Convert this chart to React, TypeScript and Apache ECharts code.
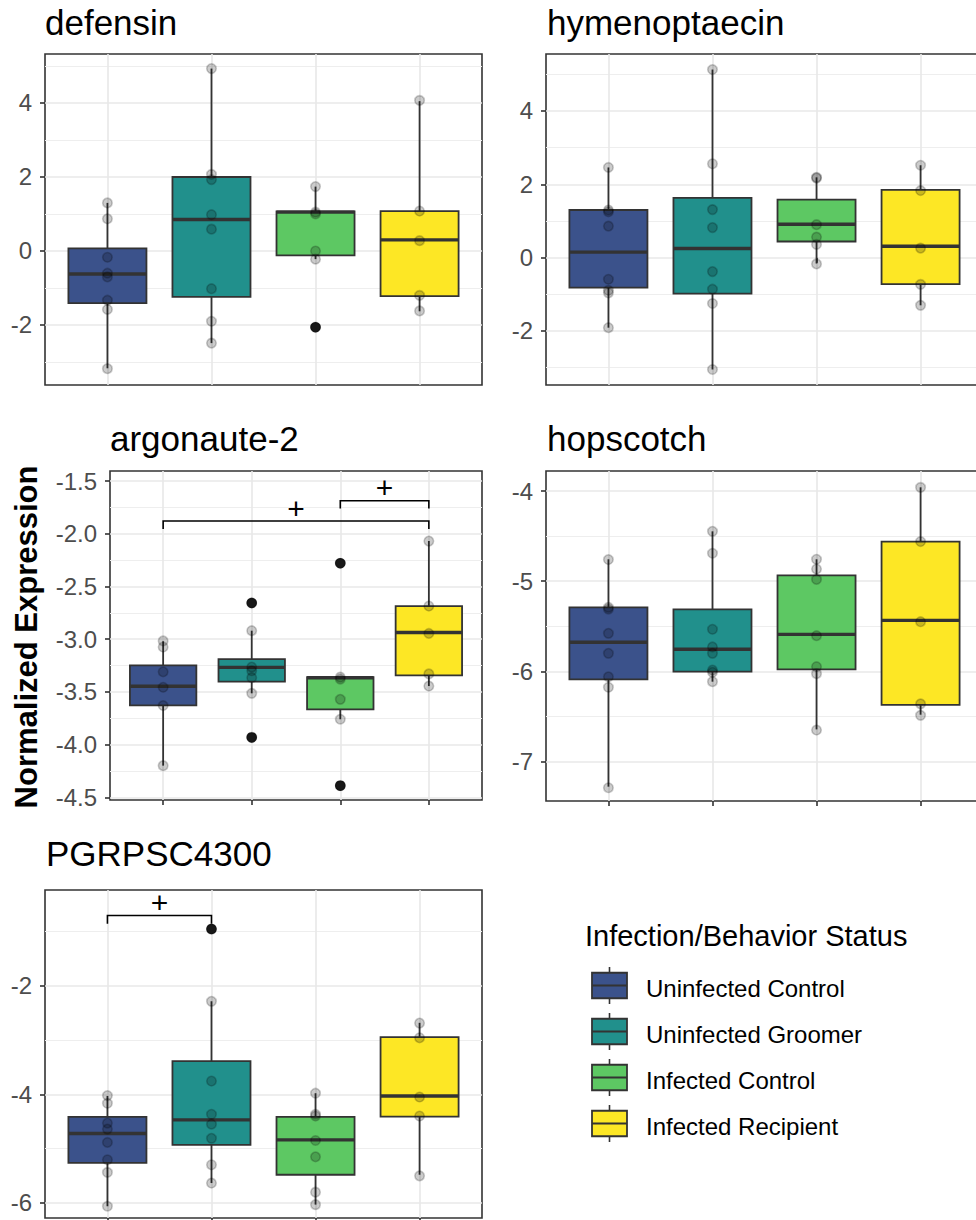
import React, { useEffect, useRef } from "react";
import * as echarts from "echarts";

const FONT = "'Liberation Sans', Arial, Helvetica, sans-serif";

// ---------- data ----------
const GROUPS = ["Uninfected Control", "Uninfected Groomer", "Infected Control", "Infected Recipient"];
const COLORS = ["#3B528B", "#21908C", "#5DC863", "#FDE725"];
const GENES = ["defensin", "hymenoptaecin", "argonaute-2", "hopscotch", "PGRPSC4300"];
const LEGEND_TITLE = "Infection/Behavior Status";
const Y_AXIS_TITLE = "Normalized Expression";
const SIGNIF_LABEL = "+";
const X_POSITIONS = [1, 2, 3, 4];

// boxes: [lower whisker, Q1, median, Q3, upper whisker] per group
const DEFENSIN_BOXES = [
  [-3.17, -1.41, -0.62, 0.07, 1.3],
  [-2.49, -1.24, 0.85, 2.0, 4.93],
  [-0.22, -0.12, 1.05, 1.07, 1.74],
  [-1.63, -1.22, 0.3, 1.08, 4.05],
];
const DEFENSIN_POINTS = [
  [1.3, 0.87, -0.17, -0.6, -0.7, -1.33, -1.58, -3.18],
  [4.93, 2.07, 1.93, 0.98, 0.59, -1.02, -1.9, -2.49],
  [1.74, 1.05, 1.0, 0.0, -0.22, -2.06],
  [4.07, 1.08, 0.28, -1.2, -1.62],
];
const DEFENSIN_OUTLIERS = [[], [], [-2.06], []];
const DEFENSIN_TICKS = [-2, 0, 2, 4];
const DEFENSIN_RANGE = [-3.622, 5.324];

const HYMENOPTAECIN_BOXES = [
  [-1.91, -0.82, 0.15, 1.3, 2.46],
  [-3.05, -0.98, 0.25, 1.63, 5.13],
  [-0.16, 0.44, 0.91, 1.58, 2.19],
  [-1.3, -0.72, 0.31, 1.85, 2.52],
];
const HYMENOPTAECIN_POINTS = [
  [2.46, 1.3, 1.25, 0.86, -0.59, -0.89, -0.96, -1.91],
  [5.13, 2.56, 1.31, 0.82, -0.38, -0.86, -1.25, -3.05],
  [2.19, 2.17, 0.9, 0.56, 0.36, -0.17],
  [2.52, 1.83, 0.26, -0.73, -1.3],
];
const HYMENOPTAECIN_OUTLIERS = [[], [], [], []];
const HYMENOPTAECIN_TICKS = [-2, 0, 2, 4];
const HYMENOPTAECIN_RANGE = [-3.473, 5.554];

const ARGONAUTE_BOXES = [
  [-4.2, -3.628, -3.447, -3.248, -3.02],
  [-3.514, -3.404, -3.268, -3.189, -2.92],
  [-3.76, -3.666, -3.366, -3.36, -3.36],
  [-3.445, -3.344, -2.937, -2.686, -2.069],
];
const ARGONAUTE_POINTS = [
  [-3.017, -3.075, -3.31, -3.457, -3.63, -4.2],
  [-2.657, -2.92, -3.265, -3.3, -3.366, -3.514, -3.932],
  [-2.28, -3.36, -3.38, -3.571, -3.76, -4.39],
  [-2.07, -2.686, -2.946, -3.33, -3.445],
];
const ARGONAUTE_OUTLIERS = [[], [-2.657, -3.932], [-2.28, -4.39], []];
const ARGONAUTE_TICKS = [-4.5, -4.0, -3.5, -3.0, -2.5, -2.0, -1.5];
const ARGONAUTE_RANGE = [-4.526, -1.405];
// brackets: [from group, to group, bar level, tip level]
const ARGONAUTE_BRACKETS = [
  [1, 4, -1.88, -1.955],
  [3, 4, -1.687, -1.76],
];

const HOPSCOTCH_BOXES = [
  [-7.278, -6.088, -5.677, -5.29, -4.757],
  [-6.114, -6.003, -5.755, -5.312, -4.447],
  [-6.643, -5.977, -5.59, -4.935, -4.757],
  [-6.48, -6.372, -5.434, -4.562, -3.959],
];
const HOPSCOTCH_POINTS = [
  [-4.76, -5.29, -5.31, -5.578, -5.8, -6.06, -6.176, -7.29],
  [-4.447, -4.69, -5.533, -5.729, -5.8, -5.985, -6.01, -6.114],
  [-4.757, -4.865, -4.98, -5.604, -5.948, -6.025, -6.65],
  [-3.96, -4.56, -5.449, -6.36, -6.487],
];
const HOPSCOTCH_OUTLIERS = [[], [], [], []];
const HOPSCOTCH_TICKS = [-7, -6, -5, -4];
const HOPSCOTCH_RANGE = [-7.437, -3.778];

const PGRP_BOXES = [
  [-6.06, -5.26, -4.72, -4.417, -4.03],
  [-5.633, -4.93, -4.47, -3.389, -2.288],
  [-6.03, -5.48, -4.838, -4.417, -3.98],
  [-5.48, -4.41, -4.03, -2.948, -2.685],
];
const PGRP_POINTS = [
  [-4.024, -4.165, -4.53, -4.64, -4.886, -5.205, -5.437, -6.06],
  [-0.96, -2.29, -3.756, -4.367, -4.55, -4.81, -5.297, -5.633],
  [-3.98, -4.367, -4.4, -4.85, -5.15, -5.8, -6.03],
  [-2.69, -2.96, -4.05, -4.4, -5.5],
];
const PGRP_OUTLIERS = [[], [-0.96], [], []];
const PGRP_TICKS = [-6, -4, -2];
const PGRP_RANGE = [-6.276, -0.241];
const PGRP_BRACKETS = [[1, 2, -0.71, -0.862]];

// ---------- layout ----------
const PANEL_LAYOUT = [
  { left: 45, top: 54, width: 437, height: 331, titleX: 45, titleY: 22.5, splitNumber: 5, decimals: 0 },
  { left: 546, top: 54, width: 437, height: 331, titleX: 547, titleY: 22.5, splitNumber: 5, decimals: 0 },
  { left: 110, top: 471, width: 372, height: 329, titleX: 110, titleY: 438.5, splitNumber: 5, decimals: 1 },
  { left: 546, top: 471, width: 437, height: 330, titleX: 547, titleY: 438, splitNumber: 5, decimals: 0 },
  { left: 45, top: 890, width: 437, height: 328, titleX: 46, titleY: 853, splitNumber: 3, decimals: 0 },
];

const PANELS = [
  { boxes: DEFENSIN_BOXES, points: DEFENSIN_POINTS, outliers: DEFENSIN_OUTLIERS, ticks: DEFENSIN_TICKS, range: DEFENSIN_RANGE, brackets: [] as number[][] },
  { boxes: HYMENOPTAECIN_BOXES, points: HYMENOPTAECIN_POINTS, outliers: HYMENOPTAECIN_OUTLIERS, ticks: HYMENOPTAECIN_TICKS, range: HYMENOPTAECIN_RANGE, brackets: [] as number[][] },
  { boxes: ARGONAUTE_BOXES, points: ARGONAUTE_POINTS, outliers: ARGONAUTE_OUTLIERS, ticks: ARGONAUTE_TICKS, range: ARGONAUTE_RANGE, brackets: ARGONAUTE_BRACKETS },
  { boxes: HOPSCOTCH_BOXES, points: HOPSCOTCH_POINTS, outliers: HOPSCOTCH_OUTLIERS, ticks: HOPSCOTCH_TICKS, range: HOPSCOTCH_RANGE, brackets: [] as number[][] },
  { boxes: PGRP_BOXES, points: PGRP_POINTS, outliers: PGRP_OUTLIERS, ticks: PGRP_TICKS, range: PGRP_RANGE, brackets: PGRP_BRACKETS },
];

const LEGEND_LAYOUT = {
  titleX: 585, titleY: 936, keyX: 592, keyW: 35, boxH: 25.5, whiskerH: 37,
  rowY0: 985.5, rowStep: 46, labelX: 646, labelDy: 2.5,
};

const BOX_WIDTH = 0.75;
const EDGE = "#333333";

function buildOption() {
  const grid: any[] = [];
  const xAxis: any[] = [];
  const yAxis: any[] = [];
  const series: any[] = [];
  const graphic: any[] = [];

  PANELS.forEach((p, i) => {
    const L = PANEL_LAYOUT[i];
    grid.push({
      left: L.left, top: L.top, width: L.width, height: L.height,
      show: true, borderColor: EDGE, borderWidth: 1.6, containLabel: false,
    });
    xAxis.push({
      type: "value", gridIndex: i, min: 0.4, max: 4.6,
      axisLine: { show: false },
      axisLabel: { show: false },
      axisTick: { show: true, length: 5, customValues: X_POSITIONS, lineStyle: { color: EDGE, width: 1.6 } },
      splitLine: { show: true, lineStyle: { color: "#E8E8E8", width: 1.6 } },
    });
    yAxis.push({
      type: "value", gridIndex: i, min: p.range[0], max: p.range[1], splitNumber: L.splitNumber,
      axisLine: { show: false },
      axisTick: { show: true, length: 5, customValues: p.ticks, lineStyle: { color: EDGE, width: 1.6 } },
      axisLabel: {
        customValues: p.ticks, color: "#4D4D4D", fontSize: 24, fontFamily: FONT, margin: 13,
        formatter: (v: number) => v.toFixed(L.decimals),
      },
      splitLine: { show: true, lineStyle: { color: "#E8E8E8", width: 1.6 } },
      minorTick: { show: false, splitNumber: 2 },
      minorSplitLine: { show: true, lineStyle: { color: "#EEEEEE", width: 1 } },
    });

    series.push({
      type: "custom", name: GENES[i] + " boxes", xAxisIndex: i, yAxisIndex: i, z: 2,
      encode: { x: 0, y: [1, 2, 3, 4, 5] },
      data: p.boxes.map((b, g) => [X_POSITIONS[g], ...b]),
      renderItem: (_params: any, api: any) => {
        const x = api.value(0);
        const lo = api.coord([x, api.value(1)]);
        const q1 = api.coord([x, api.value(2)]);
        const md = api.coord([x, api.value(3)]);
        const q3 = api.coord([x, api.value(4)]);
        const hi = api.coord([x, api.value(5)]);
        const w = api.size([BOX_WIDTH, 0])[0];
        const color = COLORS[Math.round(x) - 1];
        return {
          type: "group",
          children: [
            { type: "line", shape: { x1: lo[0], y1: lo[1], x2: q1[0], y2: q1[1] }, style: { stroke: EDGE, lineWidth: 1.8 } },
            { type: "line", shape: { x1: q3[0], y1: q3[1], x2: hi[0], y2: hi[1] }, style: { stroke: EDGE, lineWidth: 1.8 } },
            { type: "rect", shape: { x: q1[0] - w / 2, y: q3[1], width: w, height: q1[1] - q3[1] }, style: { fill: color, stroke: EDGE, lineWidth: 1.8 } },
            { type: "line", shape: { x1: md[0] - w / 2, y1: md[1], x2: md[0] + w / 2, y2: md[1] }, style: { stroke: EDGE, lineWidth: 3.4 } },
          ],
        };
      },
    });

    const outlierData: number[][] = [];
    p.outliers.forEach((arr, g) => arr.forEach((v) => outlierData.push([X_POSITIONS[g], v])));
    series.push({
      type: "scatter", name: GENES[i] + " outliers", xAxisIndex: i, yAxisIndex: i, z: 3,
      symbol: "circle", symbolSize: 10.5, data: outlierData,
      itemStyle: { color: "#1E1E1E", opacity: 1 },
    });

    const pointData: number[][] = [];
    p.points.forEach((arr, g) => arr.forEach((v) => pointData.push([X_POSITIONS[g], v])));
    series.push({
      type: "scatter", name: GENES[i] + " points", xAxisIndex: i, yAxisIndex: i, z: 4,
      symbol: "circle", symbolSize: 9.5, data: pointData,
      itemStyle: { color: "rgba(0,0,0,0.2)", borderColor: "rgba(0,0,0,0.2)", borderWidth: 1.6, opacity: 1 },
    });

    if (p.brackets.length) {
      series.push({
        type: "custom", name: GENES[i] + " significance", xAxisIndex: i, yAxisIndex: i, z: 5, clip: false,
        encode: { x: [0, 1], y: [2, 3] },
        data: p.brackets,
        renderItem: (_params: any, api: any) => {
          const x1 = api.value(0), x2 = api.value(1), yb = api.value(2), yt = api.value(3);
          const a = api.coord([x1, yt]);
          const b = api.coord([x1, yb]);
          const c = api.coord([x2, yb]);
          const d = api.coord([x2, yt]);
          return {
            type: "group",
            children: [
              { type: "polyline", shape: { points: [a, b, c, d] }, style: { stroke: "#000", lineWidth: 1.6, fill: null } },
              {
                type: "text", x: (b[0] + c[0]) / 2, y: b[1] - 13,
                style: { text: SIGNIF_LABEL, fontSize: 30, fontFamily: FONT, fill: "#000", align: "center", verticalAlign: "middle" },
              },
            ],
          };
        },
      });
    }

    graphic.push({
      type: "text", x: L.titleX, y: L.titleY,
      style: { text: GENES[i], fontSize: 35, fontFamily: FONT, fill: "#000", align: "left", verticalAlign: "middle" },
    });
  });

  graphic.push({
    type: "text", x: 26, y: 637, rotation: Math.PI / 2,
    style: { text: Y_AXIS_TITLE, fontSize: 31, fontWeight: "bold", fontFamily: FONT, fill: "#000", align: "center", verticalAlign: "middle" },
  });

  const LG = LEGEND_LAYOUT;
  graphic.push({
    type: "text", x: LG.titleX, y: LG.titleY,
    style: { text: LEGEND_TITLE, fontSize: 29, fontFamily: FONT, fill: "#000", align: "left", verticalAlign: "middle" },
  });
  GROUPS.forEach((name, g) => {
    const cy = LG.rowY0 + g * LG.rowStep;
    const cx = LG.keyX + LG.keyW / 2;
    graphic.push({
      type: "line", shape: { x1: cx, y1: cy - LG.whiskerH / 2, x2: cx, y2: cy + LG.whiskerH / 2 },
      style: { stroke: EDGE, lineWidth: 1.6 },
    });
    graphic.push({
      type: "rect", shape: { x: LG.keyX, y: cy - LG.boxH / 2, width: LG.keyW, height: LG.boxH },
      style: { fill: COLORS[g], stroke: EDGE, lineWidth: 1.8 },
    });
    graphic.push({
      type: "line", shape: { x1: LG.keyX, y1: cy, x2: LG.keyX + LG.keyW, y2: cy },
      style: { stroke: EDGE, lineWidth: 2.2 },
    });
    graphic.push({
      type: "text", x: LG.labelX, y: cy + LG.labelDy,
      style: { text: name, fontSize: 24, fontFamily: FONT, fill: "#000", align: "left", verticalAlign: "middle" },
    });
  });

  return {
    animation: false,
    backgroundColor: "#ffffff",
    textStyle: { fontFamily: FONT },
    grid,
    xAxis,
    yAxis,
    series,
    graphic,
  };
}

export default function App() {
  const ref = useRef<HTMLDivElement>(null);
  useEffect(() => {
    if (!ref.current) return;
    const chart = echarts.init(ref.current, null, { renderer: "svg" });
    chart.setOption(buildOption() as any);
    return () => chart.dispose();
  }, []);
  return (
    <div style={{ position: "absolute", left: 0, top: 0, width: 976, height: 1220, overflow: "hidden", background: "#fff" }}>
      <div ref={ref} style={{ width: 1000, height: 1220 }} />
    </div>
  );
}
